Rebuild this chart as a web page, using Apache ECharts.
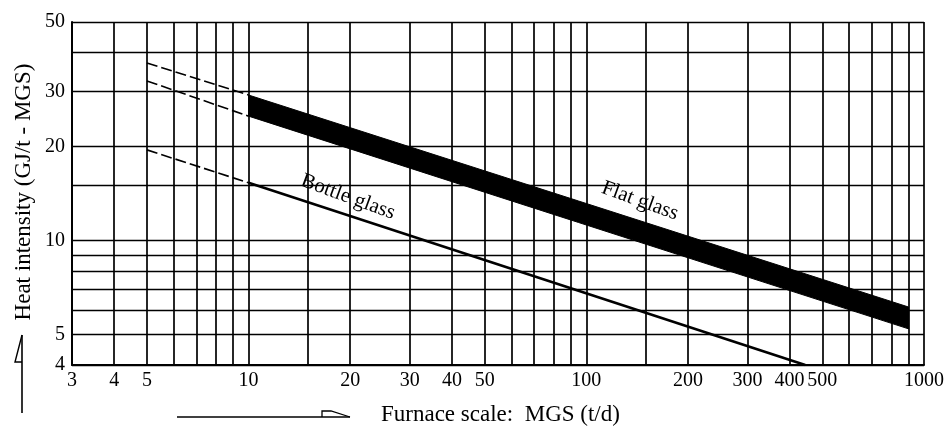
<!DOCTYPE html>
<html>
<head>
<meta charset="utf-8">
<script src="https://cdn.jsdelivr.net/npm/echarts@6/dist/echarts.min.js"></script>
<style>
  html, body { margin: 0; padding: 0; background: #fff; }
  #chart { width: 947px; height: 428px; }
</style>
</head>
<body>
<div id="chart"></div>
<script>
// grid / tick values (log-log paper)
var xGridValues = [3, 4, 5, 6, 7, 8, 9, 10, 15, 20, 30, 40, 50, 60, 70, 80, 90, 100,
  150, 200, 300, 400, 500, 600, 700, 800, 900, 1000];
var xLabelValues = [3, 4, 5, 10, 20, 30, 40, 50, 100, 200, 300, 400, 500, 1000];
var yGridValues = [4, 5, 6, 7, 8, 9, 10, 15, 20, 30, 40, 50];
var yLabelValues = [4, 5, 10, 20, 30, 50];

// flat glass band (solid part), lower and upper edge
var flatX = [10, 900];
var flatLow = [25.0, 5.22];
var flatHigh = [29.2, 6.13];
// dashed extrapolation towards small furnaces
var dashX = [5, 10];
var flatLowDash = [32.4, 25.0];
var flatHighDash = [37.0, 29.2];
// bottle glass
var bottleX = [10, 445];
var bottle = [15.3, 4];
var bottleDash = [19.5, 15.3];

var FONT = '"Liberation Serif", "DejaVu Serif", serif';

function pairs(xs, ys) {
  var out = [];
  for (var i = 0; i < xs.length; i++) out.push([xs[i], ys[i]]);
  return out;
}

var chart = echarts.init(document.getElementById('chart'));

// band between lower and upper edge, drawn as one polygon
function renderBand(params, api) {
  var pts = [];
  for (var i = 0; i < flatX.length; i++) pts.push(api.coord([flatX[i], flatHigh[i]]));
  for (var j = flatX.length - 1; j >= 0; j--) pts.push(api.coord([flatX[j], flatLow[j]]));
  return {
    type: 'polygon',
    shape: { points: pts },
    style: { fill: '#000', stroke: '#000', lineWidth: 1 }
  };
}

function dashed(name, ys) {
  return {
    name: name,
    type: 'line',
    symbol: 'none',
    data: pairs(dashX, ys),
    lineStyle: { color: '#000', width: 1.6, type: [11, 4] }
  };
}

var option = {
  animation: false,
  backgroundColor: '#fff',
  grid: { left: 72, right: 19, top: 22, bottom: 63 },
  xAxis: {
    type: 'log',
    logBase: 10,
    min: 3,
    max: 1000,
    axisLine: { show: true, lineStyle: { color: '#000', width: 2 } },
    axisTick: { show: false, customValues: xGridValues },
    splitLine: { show: true, lineStyle: { color: '#000', width: 1.7 } },
    axisLabel: {
      customValues: xLabelValues,
      color: '#000',
      fontFamily: FONT,
      fontSize: 20,
      margin: 6,
      formatter: function (v) { return String(Math.round(v)); }
    }
  },
  yAxis: {
    type: 'log',
    logBase: 10,
    min: 4,
    max: 50,
    axisLine: { show: true, lineStyle: { color: '#000', width: 2 } },
    axisTick: { show: false, customValues: yGridValues },
    splitLine: { show: true, lineStyle: { color: '#000', width: 1.3 } },
    axisLabel: {
      customValues: yLabelValues,
      color: '#000',
      fontFamily: FONT,
      fontSize: 20,
      margin: 7,
      formatter: function (v) { return String(Math.round(v)); }
    }
  },
  series: [
    {
      name: 'Flat glass',
      type: 'custom',
      renderItem: renderBand,
      data: [[flatX[0], flatLow[0]]]
    },
    dashed('flat-high-dash', flatHighDash),
    dashed('flat-low-dash', flatLowDash),
    dashed('bottle-dash', bottleDash),
    {
      name: 'Bottle glass',
      type: 'line',
      symbol: 'none',
      data: pairs(bottleX, bottle),
      lineStyle: { color: '#000', width: 2.6 }
    }
  ],
  graphic: [
    {
      type: 'text', x: 348, y: 197, rotation: -0.35,
      style: { text: 'Bottle glass', fill: '#000', font: '21px ' + FONT, align: 'center', verticalAlign: 'middle' }
    },
    {
      type: 'text', x: 640, y: 201, rotation: -0.35,
      style: { text: 'Flat glass', fill: '#000', font: '21px ' + FONT, align: 'center', verticalAlign: 'middle' }
    },
    {
      type: 'text', x: 24, y: 192, rotation: Math.PI / 2,
      style: { text: 'Heat intensity (GJ/t - MGS)', fill: '#000', font: '23px ' + FONT, align: 'center', verticalAlign: 'middle' }
    },
    {
      type: 'text', x: 381, y: 415,
      style: { text: 'Furnace scale:  MGS (t/d)', fill: '#000', font: '23px ' + FONT, align: 'left', verticalAlign: 'middle' }
    },
    // y-axis arrow
    { type: 'line', shape: { x1: 22, y1: 413, x2: 22, y2: 335 }, style: { stroke: '#000', lineWidth: 1.6 } },
    { type: 'polyline', shape: { points: [[22, 335], [15, 362], [22, 362]] }, style: { stroke: '#000', fill: null, lineWidth: 1.4 } },
    // x-axis arrow
    { type: 'line', shape: { x1: 177, y1: 417, x2: 350, y2: 417 }, style: { stroke: '#000', lineWidth: 1.6 } },
    { type: 'polyline', shape: { points: [[322, 417], [322, 411], [331, 411], [350, 417]] }, style: { stroke: '#000', fill: null, lineWidth: 1.3 } }
  ]
};

chart.setOption(option);
</script>
</body>
</html>
